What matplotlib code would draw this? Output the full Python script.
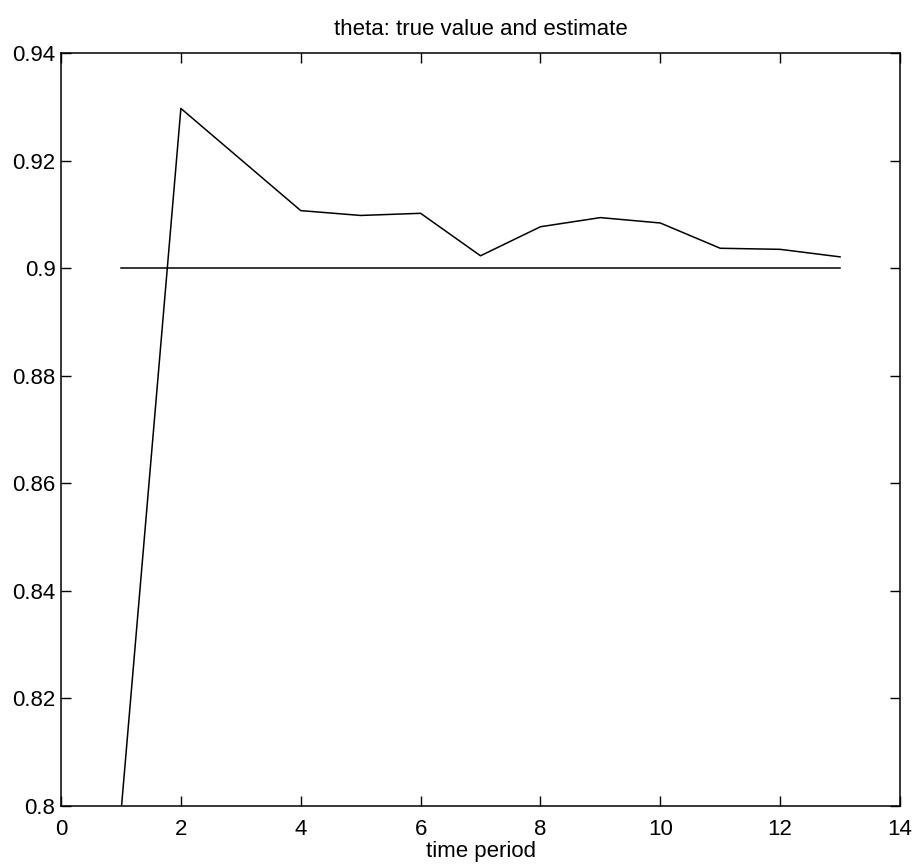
import matplotlib
matplotlib.use("Agg")
import matplotlib.pyplot as plt
from matplotlib.ticker import FuncFormatter

# time periods and values
periods = [1, 2, 3, 4, 5, 6, 7, 8, 9, 10, 11, 12, 13]
estimate = [0.7987, 0.9297, 0.9202, 0.9107, 0.9098, 0.9102, 0.9023,
            0.9077, 0.9094, 0.9084, 0.9037, 0.9035, 0.9021]
true_value = [0.9] * len(periods)

x_ticks = [0, 2, 4, 6, 8, 10, 12, 14]
y_ticks = [0.8, 0.82, 0.84, 0.86, 0.88, 0.9, 0.92, 0.94]

plt.rcParams['font.family'] = ['Liberation Sans', 'DejaVu Sans']

fig = plt.figure(figsize=(9.15, 8.65), dpi=100)
ax = fig.add_axes([0.0667, 0.0682, 0.9169, 0.8705])

ax.plot(periods, estimate, color='black', linewidth=1.1)
ax.plot(periods, true_value, color='black', linewidth=1.1)

ax.set_xlim(0, 14)
ax.set_ylim(0.8, 0.94)
ax.set_xticks(x_ticks)
ax.set_yticks(y_ticks)
ax.yaxis.set_major_formatter(FuncFormatter(lambda v, p: '%g' % round(v, 4)))
ax.tick_params(direction='in', length=7, width=1, labelsize=16,
               top=True, right=True)
ax.tick_params(axis='x', pad=9)
ax.tick_params(axis='y', pad=4)
for s in ax.spines.values():
    s.set_linewidth(1.1)

ax.set_title('theta: true value and estimate', fontsize=16, pad=13)
ax.set_xlabel('time period', fontsize=16, labelpad=1)

fig.savefig('out.png', dpi=100)
